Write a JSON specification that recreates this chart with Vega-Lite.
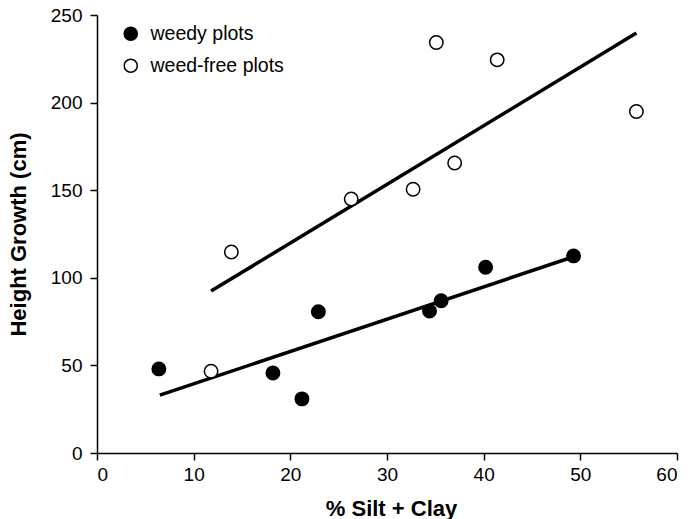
{
  "$schema": "https://vega.github.io/schema/vega-lite/v6.json",
  "width": 580,
  "height": 438,
  "autosize": {"type": "none"},
  "padding": {"left": 97, "top": 15, "right": 13, "bottom": 66},
  "background": "white",
  "config": {
    "view": {"stroke": null},
    "font": "Liberation Sans",
    "axis": {
      "grid": false,
      "domainColor": "black",
      "domainWidth": 1.5,
      "tickColor": "black",
      "tickWidth": 1.5,
      "tickSize": 7,
      "labelColor": "black",
      "labelFont": "Liberation Sans",
      "labelFontSize": 19,
      "titleFont": "Liberation Sans",
      "titleFontSize": 22,
      "titleFontWeight": "bold",
      "titleColor": "black"
    }
  },
  "datasets": {
    "points": [
      {"silt": 6.4, "height": 48, "group": "weedy plots"},
      {"silt": 18.2, "height": 45.7, "group": "weedy plots"},
      {"silt": 21.2, "height": 30.9, "group": "weedy plots"},
      {"silt": 22.9, "height": 80.6, "group": "weedy plots"},
      {"silt": 34.4, "height": 81, "group": "weedy plots"},
      {"silt": 35.6, "height": 86.9, "group": "weedy plots"},
      {"silt": 40.2, "height": 106, "group": "weedy plots"},
      {"silt": 49.3, "height": 112.5, "group": "weedy plots"},
      {"silt": 11.8, "height": 46.7, "group": "weed-free plots"},
      {"silt": 13.9, "height": 114.7, "group": "weed-free plots"},
      {"silt": 26.3, "height": 145, "group": "weed-free plots"},
      {"silt": 32.7, "height": 150.5, "group": "weed-free plots"},
      {"silt": 37.0, "height": 165.5, "group": "weed-free plots"},
      {"silt": 35.1, "height": 234.3, "group": "weed-free plots"},
      {"silt": 41.4, "height": 224.4, "group": "weed-free plots"},
      {"silt": 55.8, "height": 194.9, "group": "weed-free plots"}
    ],
    "lines": [
      {"silt": 6.5, "height": 33, "group": "weedy plots"},
      {"silt": 49.3, "height": 112, "group": "weedy plots"},
      {"silt": 11.8, "height": 92.4, "group": "weed-free plots"},
      {"silt": 55.8, "height": 239.7, "group": "weed-free plots"}
    ]
  },
  "layer": [
    {
      "data": {"name": "lines"},
      "mark": {"type": "line", "color": "black", "strokeWidth": 3.5},
      "encoding": {
        "x": {"field": "silt", "type": "quantitative"},
        "y": {"field": "height", "type": "quantitative"},
        "detail": {"field": "group"}
      }
    },
    {
      "data": {"name": "points"},
      "mark": {"type": "point", "shape": "circle", "filled": true, "stroke": "black", "strokeWidth": 1.5, "size": 180, "opacity": 1},
      "encoding": {
        "x": {
          "field": "silt", "type": "quantitative",
          "scale": {"domain": [0, 60], "nice": false, "zero": true},
          "axis": {"values": [0, 10, 20, 30, 40, 50, 60], "title": "% Silt + Clay", "labelPadding": 5, "titleX": 294, "titleY": 55, "titleBaseline": "middle", "titleAlign": "center"}
        },
        "y": {
          "field": "height", "type": "quantitative",
          "scale": {"domain": [0, 250], "nice": false},
          "axis": {"values": [0, 50, 100, 150, 200, 250], "title": "Height Growth (cm)", "labelPadding": 8, "titleX": -79, "titleY": 219, "titleAngle": -90, "titleBaseline": "middle", "titleAlign": "center"}
        },
        "fill": {
          "field": "group", "type": "nominal",
          "scale": {"domain": ["weedy plots", "weed-free plots"], "range": ["black", "white"]},
          "legend": {
            "title": null,
            "orient": "none",
            "legendX": 24,
            "legendY": 9,
            "symbolType": "circle",
            "symbolSize": 170,
            "symbolStrokeColor": "black",
            "symbolStrokeWidth": 1.5,
            "symbolOpacity": 1,
            "labelFont": "Liberation Sans",
            "labelFontSize": 19.5,
            "labelColor": "black",
            "labelOffset": 10,
            "rowPadding": 11,
            "padding": 0
          }
        }
      }
    }
  ]
}
